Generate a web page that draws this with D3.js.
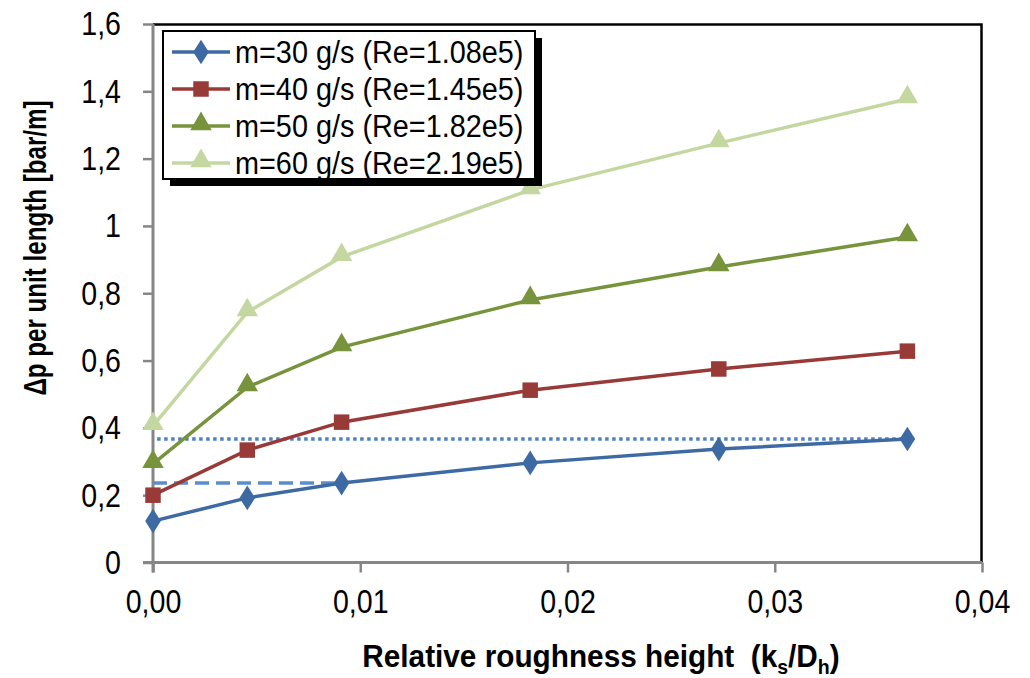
<!DOCTYPE html>
<html>
<head>
<meta charset="utf-8">
<script src="https://cdn.jsdelivr.net/npm/d3@7"></script>
<style>
	body { margin: 0; background: #fff; }
	text { font-family: "Liberation Sans", Arial, sans-serif; white-space: pre; }
</style>
</head>
<body>
<div id="chart-div"></div>
<script>
//Data
var roughness = [0, 0.00455, 0.0091, 0.0182, 0.0273, 0.0364];
var seriesNames = ["m=30 g/s (Re=1.08e5)", "m=40 g/s (Re=1.45e5)", "m=50 g/s (Re=1.82e5)", "m=60 g/s (Re=2.19e5)"];
var dp30 = [0.123, 0.192, 0.236, 0.296, 0.337, 0.367];
var dp40 = [0.200, 0.334, 0.417, 0.512, 0.575, 0.628];
var dp50 = [0.293, 0.521, 0.640, 0.780, 0.878, 0.967];
var dp60 = [0.406, 0.744, 0.908, 1.107, 1.246, 1.377];
var xTicks = [0, 0.01, 0.02, 0.03, 0.04];
var yTicks = [0, 0.2, 0.4, 0.6, 0.8, 1, 1.2, 1.4, 1.6];
//Horizontal reference lines: level and x extent
var refDotted = {y: 0.367, x0: 0.0002, x1: 0.0364};
var refDashed = {y: 0.236, x0: 0, x1: 0.0091};

var colors = ["#3e6aa4", "#983a38", "#77933c", "#c4d7a0"];
var symbols = [d3.symbolDiamond, d3.symbolSquare, d3.symbolTriangle, d3.symbolTriangle];
var symSizes = [175, 240, 200, 200];

//Canvas
var W = 1030, H = 678;
var margin = {top: 24, right: 48, bottom: 115.5, left: 153};
var w = W - margin.left - margin.right,
	h = H - margin.top - margin.bottom;

var svg = d3.select("#chart-div").append("svg")
	.attr("width", W).attr("height", H)
	.append("g")
	.attr("transform", "translate(" + margin.left + "," + margin.top + ")");

//squeeze text horizontally, the reference uses a narrow face
function squeeze(sel, f) {
	sel.each(function() {
		var n = this.getComputedTextLength();
		d3.select(this).attr("textLength", n * f).attr("lengthAdjust", "spacingAndGlyphs");
	});
}

var locale = d3.formatLocale({decimal: ",", thousands: ".", grouping: [3]});

var x = d3.scaleLinear().domain([0, 0.04]).range([0, w]);
var y = d3.scaleLinear().domain([0, 1.6]).range([h, 0]);

//Plot frame: black on top and right
svg.append("path")
	.attr("d", "M0,0.5H" + (w - 0.5) + "V" + h)
	.attr("fill", "none").attr("stroke", "#000").attr("stroke-width", 2.5);

//Axes
var xAxis = svg.append("g")
	.attr("transform", "translate(0," + h + ")")
	.call(d3.axisBottom(x).tickValues(xTicks).tickSize(10).tickPadding(16).tickFormat(locale.format(".2f")));
var yAxis = svg.append("g")
	.call(d3.axisLeft(y).tickValues(yTicks).tickSize(10).tickPadding(22).tickFormat(locale.format(".1~f")));

[xAxis, yAxis].forEach(function(a) {
	a.select(".domain").attr("stroke", "#868686").attr("stroke-width", 3);
	a.selectAll(".tick line").attr("stroke", "#868686").attr("stroke-width", 2.5);
	a.selectAll(".tick text").attr("fill", "#000").style("font-size", "34px").attr("font-family", null)
		.call(squeeze, 0.84);
});
xAxis.select(".domain").attr("d", "M-10,0H" + w);
yAxis.select(".domain").attr("d", "M0,0V" + (h + 10));

//Reference lines
svg.append("line")
	.attr("x1", x(refDotted.x0)).attr("x2", x(refDotted.x1))
	.attr("y1", y(refDotted.y)).attr("y2", y(refDotted.y))
	.attr("stroke", "#4f81c4").attr("stroke-width", 3.5).attr("stroke-dasharray", "3.5,3.5");
svg.append("line")
	.attr("x1", x(refDashed.x0)).attr("x2", x(refDashed.x1))
	.attr("y1", y(refDashed.y)).attr("y2", y(refDashed.y))
	.attr("stroke", "#5a8dcb").attr("stroke-width", 3.5).attr("stroke-dasharray", "14,7");

//Series
var allSeries = [dp30, dp40, dp50, dp60];
var line = d3.line().x(function(d, i) { return x(roughness[i]); }).y(function(d) { return y(d); });

allSeries.slice().reverse().forEach(function(vals, ri) {
	var k = allSeries.length - 1 - ri;
	svg.append("path").datum(vals)
		.attr("d", line)
		.attr("fill", "none").attr("stroke", colors[k]).attr("stroke-width", 3.5);
	svg.append("g").selectAll("path").data(vals).enter().append("path")
		.attr("d", d3.symbol().type(symbols[k]).size(symSizes[k]))
		.attr("transform", function(d, i) { return "translate(" + x(roughness[i]) + "," + (y(d) + (k >= 2 ? -2 : 0)) + ")" + (k == 0 ? " scale(1.1,1)" : ""); })
		.attr("fill", colors[k]);
});

//Legend
var lg = svg.append("g").attr("transform", "translate(10,7)");
var lw = 372, lh = 148;
lg.append("rect").attr("x", 7).attr("y", 7).attr("width", lw).attr("height", lh).attr("fill", "#000");
lg.append("rect").attr("x", 0).attr("y", 0).attr("width", lw).attr("height", lh)
	.attr("fill", "#fff").attr("stroke", "#000").attr("stroke-width", 2);

seriesNames.forEach(function(name, k) {
	var row = lg.append("g").attr("transform", "translate(0," + (21 + k * 37) + ")");
	row.append("line").attr("x1", 9).attr("x2", 67).attr("y1", 0).attr("y2", 0)
		.attr("stroke", colors[k]).attr("stroke-width", 3.5);
	row.append("path")
		.attr("d", d3.symbol().type(symbols[k]).size(symSizes[k]))
		.attr("transform", "translate(38," + (k >= 2 ? -2 : 0) + ")" + (k == 0 ? " scale(1.1,1)" : ""))
		.attr("fill", colors[k]);
	row.append("text").attr("x", 72).attr("y", 11)
		.style("font-size", "31px").text(name)
		.call(squeeze, 0.93);
});

//Axis titles
var xt = svg.append("g")
	.attr("transform", "translate(" + (601 - margin.left) + "," + (667 - margin.top) + ") scale(0.93,1)")
	.append("text")
	.attr("text-anchor", "middle")
	.style("font-size", "32px").style("font-weight", "bold");
xt.append("tspan").text("Relative roughness height  (k");
xt.append("tspan").attr("dy", 7).style("font-size", "21px").text("s");
xt.append("tspan").attr("dy", -7).text("/D");
xt.append("tspan").attr("dy", 7).style("font-size", "21px").text("h");
xt.append("tspan").attr("dy", -7).text(")");

svg.append("g")
	.attr("transform", "translate(" + (46 - margin.left) + "," + (248 - margin.top) + ") rotate(-90) scale(0.78,1)")
	.append("text")
	.attr("text-anchor", "middle")
	.style("font-size", "31px").style("font-weight", "bold")
	.text("Δp per unit length [bar/m]");
</script>
</body>
</html>
